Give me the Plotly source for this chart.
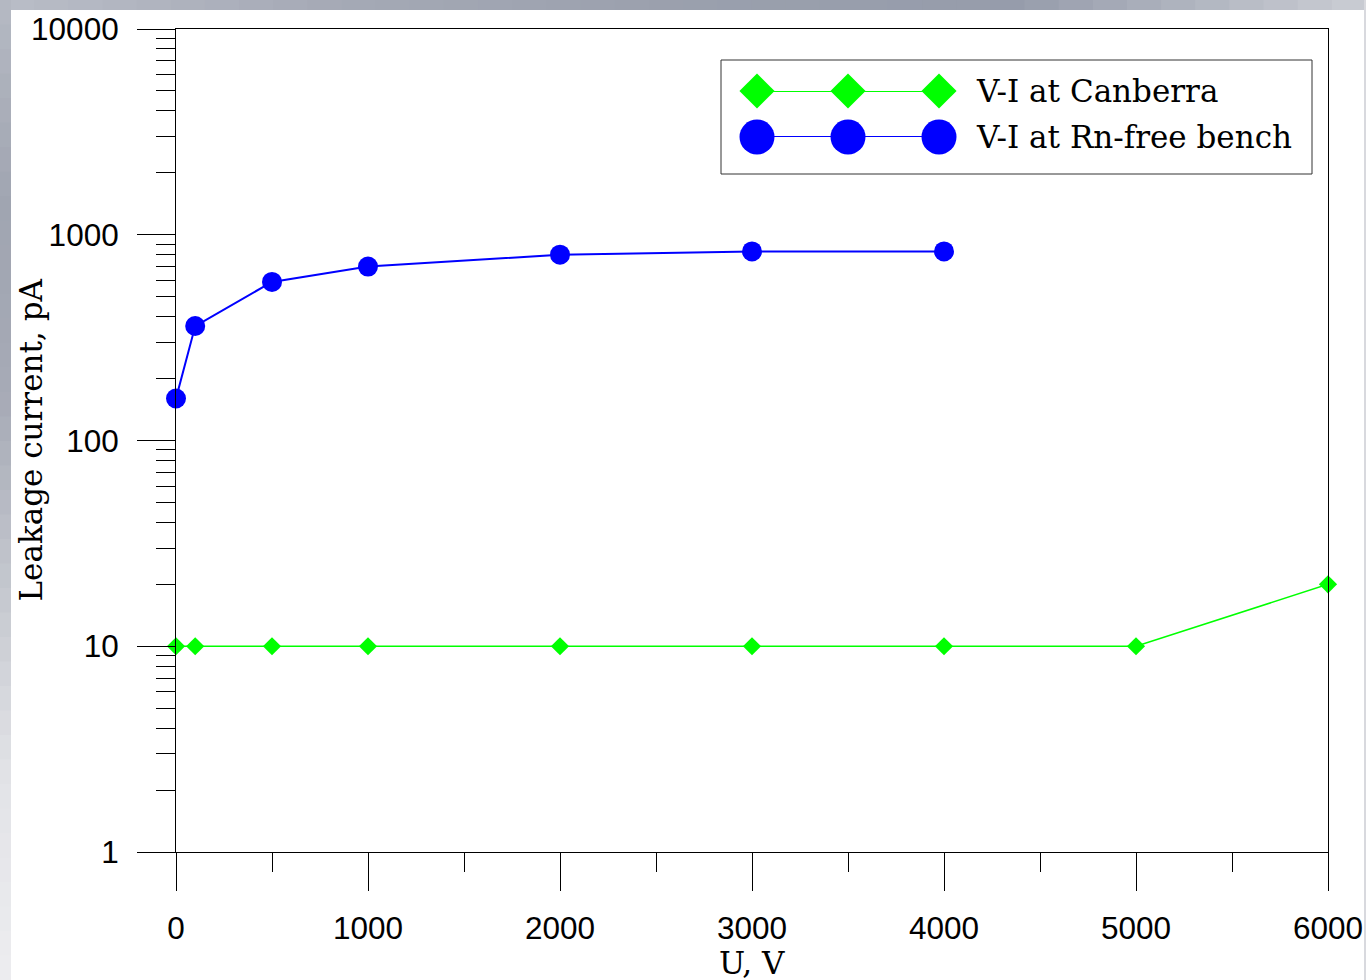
import plotly.graph_objects as go

# ---- data ----
voltage_canberra = [0, 100, 500, 1000, 2000, 3000, 4000, 5000, 6000]
current_canberra = [10, 10, 10, 10, 10, 10, 10, 10, 20]
voltage_rnfree = [0, 100, 500, 1000, 2000, 3000, 4000]
current_rnfree = [160, 360, 590, 700, 800, 830, 830]
series_names = ["V-I at Canberra", "V-I at Rn-free bench"]
x_tickvals = [0, 1000, 2000, 3000, 4000, 5000, 6000]
x_ticktext = ["0", "1000", "2000", "3000", "4000", "5000", "6000"]
y_tickvals = [1, 10, 100, 1000, 10000]
y_ticktext = ["1", "10", "100", "1000", "10000"]
legend_sample_x = [0, 1, 2]

GREEN = "#00ff00"
BLUE = "#0000ff"
W, H = 1366, 980
L, R, T, B = 176, 1328, 29, 852


def px(x):
    return (x - L) / (R - L)


def py(y):
    return (B - y) / (B - T)


def hexrgb(h):
    return tuple(int(h[i:i + 2], 16) for i in (1, 3, 5))


def blend(stops, n):
    """Interpolate a list of hex colour stops into n colours (style only)."""
    out = []
    for k in range(n):
        t = k / (n - 1) * (len(stops) - 1)
        i = min(int(t), len(stops) - 2)
        f = t - i
        a, b = hexrgb(stops[i]), hexrgb(stops[i + 1])
        out.append("rgb(%d,%d,%d)" % tuple(round(a[j] + (b[j] - a[j]) * f) for j in range(3)))
    return out


fig = go.Figure()
fig.add_trace(go.Scatter(x=voltage_canberra, y=current_canberra, mode="lines+markers",
                         name=series_names[0], cliponaxis=False,
                         line=dict(color=GREEN, width=1.5),
                         marker=dict(symbol="diamond", size=14, color=GREEN)))
fig.add_trace(go.Scatter(x=voltage_rnfree, y=current_rnfree, mode="lines+markers",
                         name=series_names[1], cliponaxis=False,
                         line=dict(color=BLUE, width=2),
                         marker=dict(symbol="circle", size=20, color=BLUE)))

# legend samples on an overlay axis
fig.add_trace(go.Scatter(x=legend_sample_x, y=[1] * 3, xaxis="x2", yaxis="y2", mode="lines+markers",
                         cliponaxis=False, showlegend=False, hoverinfo="skip",
                         line=dict(color=GREEN, width=2),
                         marker=dict(symbol="diamond", size=27, color=GREEN)))
fig.add_trace(go.Scatter(x=legend_sample_x, y=[0] * 3, xaxis="x2", yaxis="y2", mode="lines+markers",
                         cliponaxis=False, showlegend=False, hoverinfo="skip",
                         line=dict(color=BLUE, width=2),
                         marker=dict(symbol="circle", size=35, color=BLUE)))

minor_y = [m * 10 ** d for d in range(0, 4) for m in range(2, 10)]
minor_x = [v + 500 for v in x_tickvals[:-1]]

tickfont = dict(family="Liberation Sans, Arial", size=31.5, color="black")
serif = dict(family="DejaVu Serif, serif", size=31, color="black")

shapes = []
# slide-like gray border (top and left strips)
top_cols = blend(["#b8bcc6", "#a4a9b5", "#9aa0ad", "#969cab", "#c8cbd2"], 40)
n = len(top_cols)
for i, c in enumerate(top_cols):
    shapes.append(dict(type="rect", xref="paper", yref="paper", layer="below",
                       x0=px(i * W / n), x1=px((i + 1) * W / n + 1), y0=py(10), y1=py(0),
                       fillcolor=c, line=dict(width=0)))
left_cols = blend(["#b4b8c2", "#a0a5b1", "#a6aab6", "#c4c7ce", "#e2e3e7", "#ececef"], 40)
n = len(left_cols)
for i, c in enumerate(left_cols):
    shapes.append(dict(type="rect", xref="paper", yref="paper", layer="below",
                       x0=px(0), x1=px(11), y0=py((i + 1) * H / n + 1), y1=py(i * H / n if i else 0),
                       fillcolor=c, line=dict(width=0)))
# thin gray edge at the right of the slide
shapes.append(dict(type="rect", xref="paper", yref="paper", layer="below",
                   x0=px(1364), x1=px(1367), y0=py(980), y1=py(0),
                   fillcolor="#d8d9de", line=dict(width=0)))
# legend box
shapes.append(dict(type="rect", xref="paper", yref="paper", x0=px(721), x1=px(1312), y0=py(174), y1=py(60),
                   line=dict(color="#333333", width=1), fillcolor="rgba(0,0,0,0)"))

annotations = [
    dict(text=series_names[0], xref="paper", yref="paper", x=px(974), y=py(91), xanchor="left",
         yanchor="middle", showarrow=False, font=serif),
    dict(text=series_names[1], xref="paper", yref="paper", x=px(974), y=py(137), xanchor="left",
         yanchor="middle", showarrow=False, font=serif),
    dict(text="Leakage current, pA", xref="paper", yref="paper", x=px(30), y=0.5, textangle=-90,
         xanchor="center", yanchor="middle", showarrow=False, font=serif),
    dict(text="U, V", xref="paper", yref="paper", x=0.5, y=py(963), xanchor="center",
         yanchor="middle", showarrow=False, font=serif),
]

fig.update_layout(
    width=W, height=H, autosize=False,
    margin=dict(l=L, r=W - R, t=T, b=H - B, pad=0, autoexpand=False),
    paper_bgcolor="white", plot_bgcolor="white",
    showlegend=False,
    xaxis=dict(range=[0, 6000], tickvals=x_tickvals, ticktext=x_ticktext, ticks="outside",
               ticklen=38, tickwidth=1, tickcolor="black", showline=True, linecolor="black",
               linewidth=1, mirror=True, showgrid=False, zeroline=False, tickfont=tickfont,
               ticklabelstandoff=10, automargin=False,
               minor=dict(tickmode="array", tickvals=minor_x, ticks="outside", ticklen=19,
                          tickcolor="black", tickwidth=1, showgrid=False)),
    yaxis=dict(type="log", range=[0, 4], tickvals=y_tickvals, ticktext=y_ticktext, ticks="outside",
               ticklen=38, tickwidth=1, tickcolor="black", showline=True, linecolor="black",
               linewidth=1, mirror=True, showgrid=False, zeroline=False, tickfont=tickfont,
               ticklabelstandoff=12, automargin=False,
               minor=dict(tickmode="array", tickvals=minor_y, ticks="outside", ticklen=19,
                          tickcolor="black", tickwidth=1, showgrid=False)),
    xaxis2=dict(domain=[px(757), px(939)], range=[0, 2], visible=False, anchor="y2"),
    yaxis2=dict(domain=[py(137), py(91)], range=[0, 1], visible=False, anchor="x2"),
    shapes=shapes, annotations=annotations,
)

fig.write_html("out.html", config={"displayModeBar": False, "responsive": False},
               post_script="document.body.style.margin='0';document.body.style.overflow='hidden';")
